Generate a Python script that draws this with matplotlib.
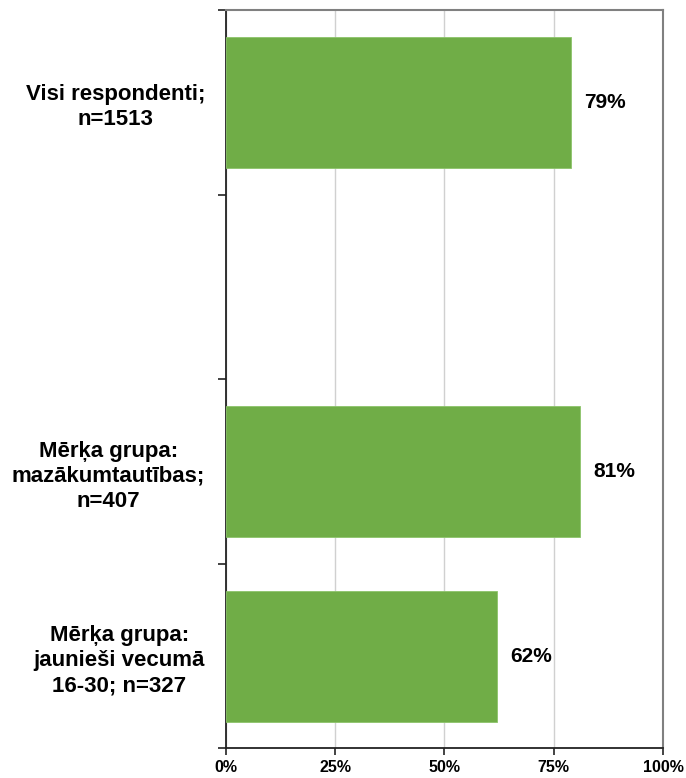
import numpy as np
import matplotlib.pyplot as plt
from matplotlib.ticker import FixedLocator

plt.rcParams['font.family'] = ['Liberation Sans', 'DejaVu Sans']
plt.rcParams['font.weight'] = 'bold'

labels = ['Visi respondenti;\nn=1513', '',
          'Mērķa grupa:\nmazākumtautības;\nn=407',
          'Mērķa grupa:\njaunieši vecumā\n16-30; n=327']
values = [79, np.nan, 81, 62]
xticks = [0, 25, 50, 75, 100]

fig = plt.figure(figsize=(6.86, 7.78), dpi=100)
ax = fig.add_axes([0.3294, 0.038, 0.6371, 0.949])

y = np.arange(len(labels))
bars = ax.barh(y, values, height=0.71, color='#70AD47', edgecolor='#8CC46A', linewidth=0.6, zorder=3)
for yi, v in zip(y, values):
    if not np.isnan(v):
        ax.text(v + 3.0, yi, f'{v:.0f}%', va='center', ha='left', fontsize=15, fontweight='bold')

ax.set_xlim(0, 100)
ax.set_ylim(len(labels) - 0.5, -0.5)
ax.set_xticks(xticks)
ax.set_xticklabels([f'{t}%' for t in xticks], fontsize=11.5, fontweight='bold')
ax.xaxis.grid(True, color='#D0D0D0', linewidth=1.0, zorder=0)

ax.set_yticks(y)
ax.set_yticklabels(labels, fontsize=16, fontweight='bold', multialignment='center', linespacing=1.25)
ax.tick_params(axis='y', which='major', length=0, pad=15)
ax.yaxis.set_minor_locator(FixedLocator(np.arange(-0.5, len(labels), 1.0)))
ax.tick_params(axis='y', which='minor', length=6, width=1.2, color='#222222')
ax.tick_params(axis='x', length=5, width=1.2, color='#222222', pad=3)

for s in ['left', 'bottom']:
    ax.spines[s].set_color('#222222')
    ax.spines[s].set_linewidth(1.3)
for s in ['top', 'right']:
    ax.spines[s].set_color('#808080')
    ax.spines[s].set_linewidth(1.5)

fig.savefig('out.png', dpi=100)
